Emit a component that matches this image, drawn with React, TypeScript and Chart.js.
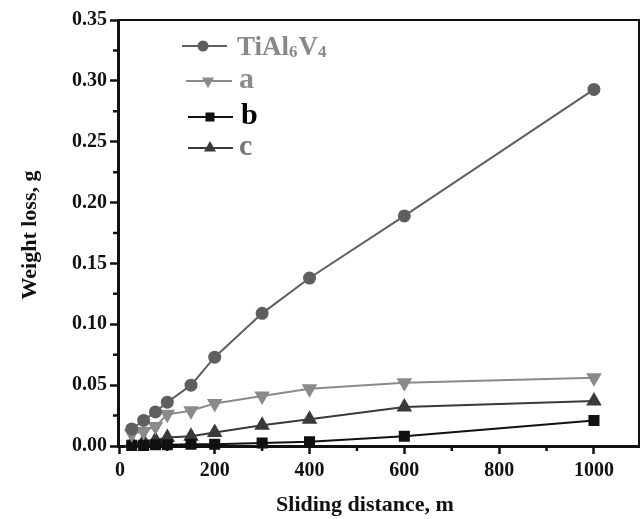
import React, { useEffect, useRef } from 'react';
import { Chart, registerables } from 'chart.js';

Chart.register(...registerables);

const distances = [25, 50, 75, 100, 150, 200, 300, 400, 600, 1000];
const tiAl6V4 = [0.014, 0.021, 0.028, 0.036, 0.05, 0.073, 0.109, 0.138, 0.189, 0.293];
const seriesA = [0.01, 0.012, 0.016, 0.026, 0.029, 0.035, 0.041, 0.047, 0.052, 0.056];
const seriesB = [0.0005, 0.0005, 0.001, 0.001, 0.0015, 0.0015, 0.0025, 0.0035, 0.008, 0.021];
const seriesC = [0.002, 0.004, 0.005, 0.007, 0.008, 0.011, 0.017, 0.022, 0.032, 0.037];

const xTicks = [0, 200, 400, 600, 800, 1000];
const xMinorTicks = [100, 300, 500, 700, 900];
const yTicks = [0, 0.05, 0.1, 0.15, 0.2, 0.25, 0.3, 0.35];
const yMinorTicks = [0.025, 0.075, 0.125, 0.175, 0.225, 0.275, 0.325];

const legendLabels = ['TiAl', 'a', 'b', 'c'];
const xTitle = 'Sliding distance, m';
const yTitle = 'Weight loss, g';

const SERIF = '"Liberation Serif", "Times New Roman", serif';

type MarkerStyle = 'circle' | 'rect' | 'triangle' | 'triangleDown';

function drawMarker(ctx: CanvasRenderingContext2D, style: MarkerStyle, x: number, y: number, r: number, color: string) {
  ctx.save();
  ctx.fillStyle = color;
  ctx.beginPath();
  if (style === 'circle') {
    ctx.arc(x, y, r, 0, Math.PI * 2);
  } else if (style === 'rect') {
    const s = r * Math.SQRT1_2;
    ctx.rect(x - s, y - s, 2 * s, 2 * s);
  } else if (style === 'triangle') {
    const h = r * Math.sin(Math.PI / 3);
    ctx.moveTo(x, y - r);
    ctx.lineTo(x - h, y + r / 2);
    ctx.lineTo(x + h, y + r / 2);
    ctx.closePath();
  } else {
    const h = r * Math.sin(Math.PI / 3);
    ctx.moveTo(x, y + r);
    ctx.lineTo(x - h, y - r / 2);
    ctx.lineTo(x + h, y - r / 2);
    ctx.closePath();
  }
  ctx.fill();
  ctx.restore();
}

const frameAndLegend = {
  id: 'frameAndLegend',
  afterDraw(chart: any) {
    const ctx: CanvasRenderingContext2D = chart.ctx;
    const { left, right, top, bottom } = chart.chartArea;
    const xs = chart.scales.x;
    const ys = chart.scales.y;
    ctx.save();
    // frame top and right
    ctx.strokeStyle = '#111';
    ctx.lineWidth = 2;
    ctx.beginPath();
    ctx.moveTo(left, top);
    ctx.lineTo(right, top);
    ctx.lineTo(right, bottom);
    ctx.stroke();
    // minor ticks
    ctx.lineWidth = 2.5;
    ctx.beginPath();
    xMinorTicks.forEach((v) => {
      const px = xs.getPixelForValue(v);
      ctx.moveTo(px, bottom);
      ctx.lineTo(px, bottom + 5);
    });
    yMinorTicks.forEach((v) => {
      const py = ys.getPixelForValue(v);
      ctx.moveTo(left, py);
      ctx.lineTo(left - 5, py);
    });
    ctx.stroke();

    // axis titles
    ctx.fillStyle = '#111';
    ctx.font = `bold 22px ${SERIF}`;
    ctx.textAlign = 'center';
    ctx.textBaseline = 'middle';
    ctx.fillText(xTitle, 365, 505);
    ctx.save();
    ctx.translate(30, 235);
    ctx.rotate(-Math.PI / 2);
    ctx.fillText(yTitle, 0, 0);
    ctx.restore();

    // legend
    const rows = [
      { lineY: 46, x0: 182, x1: 227, mx: 203, tx: 237, ty: 55, style: 'circle', color: '#5f5f5f', text: '#888888', r: 5.5 },
      { lineY: 81, x0: 186, x1: 232, mx: 208, tx: 239, ty: 88, style: 'triangleDown', color: '#8a8a8a', text: '#8c8c8c', r: 7 },
      { lineY: 117, x0: 188, x1: 233, mx: 210, tx: 241, ty: 124, style: 'rect', color: '#111111', text: '#000000', r: 6.4 },
      { lineY: 148, x0: 188, x1: 233, mx: 210, tx: 239, ty: 155, style: 'triangle', color: '#3a3a3a', text: '#777777', r: 7 },
    ];
    ctx.textAlign = 'left';
    ctx.textBaseline = 'alphabetic';
    rows.forEach((row, i) => {
      ctx.strokeStyle = row.color;
      ctx.lineWidth = 2;
      ctx.beginPath();
      ctx.moveTo(row.x0, row.lineY);
      ctx.lineTo(row.x1, row.lineY);
      ctx.stroke();
      drawMarker(ctx, row.style as MarkerStyle, row.mx, row.lineY, row.r, row.color);
      ctx.fillStyle = row.text;
      if (i === 0) {
        let x = row.tx;
        const parts: [string, boolean][] = [[legendLabels[0], false], ['6', true], ['V', false], ['4', true]];
        parts.forEach(([t, sub]) => {
          ctx.font = sub ? `bold 17px ${SERIF}` : `bold 27px ${SERIF}`;
          ctx.fillText(t, x, sub ? row.ty + 2 : row.ty);
          x += ctx.measureText(t).width + (sub ? 1 : 0);
        });
      } else {
        ctx.font = `bold 30px ${SERIF}`;
        ctx.fillText(legendLabels[i], row.tx, row.ty);
      }
    });
    ctx.restore();
  },
};

export default function App() {
  const canvasRef = useRef<HTMLCanvasElement | null>(null);

  useEffect(() => {
    if (!canvasRef.current) return;
    const mk = (data: number[]) => distances.map((d, i) => ({ x: d, y: data[i] }));
    const tickFont = { family: SERIF, size: 20, weight: 'bold' as const };
    const chart = new Chart(canvasRef.current, {
      type: 'line',
      data: {
        datasets: [
          {
            label: 'TiAl6V4',
            data: mk(tiAl6V4),
            borderColor: '#5f5f5f',
            backgroundColor: '#5f5f5f',
            pointStyle: 'circle',
            pointRadius: 5.5,
            borderWidth: 2,
            clip: false as any,
          },
          {
            label: 'a',
            data: mk(seriesA),
            borderColor: '#8a8a8a',
            backgroundColor: '#8a8a8a',
            pointStyle: 'triangle',
            pointRotation: 180,
            pointRadius: 7,
            borderWidth: 2,
            clip: false as any,
          },
          {
            label: 'b',
            data: mk(seriesB),
            borderColor: '#111111',
            backgroundColor: '#111111',
            pointStyle: 'rect',
            pointRadius: 6.4,
            borderWidth: 2,
            clip: false as any,
          },
          {
            label: 'c',
            data: mk(seriesC),
            borderColor: '#3a3a3a',
            backgroundColor: '#3a3a3a',
            pointStyle: 'triangle',
            pointRadius: 7,
            borderWidth: 2,
            clip: false as any,
          },
        ],
      },
      options: {
        responsive: false,
        animation: false,
        devicePixelRatio: 1,
        layout: { autoPadding: false, padding: { top: 20, right: 2, left: 0, bottom: 0 } },
        plugins: { legend: { display: false }, tooltip: { enabled: false } },
        elements: { line: { tension: 0 }, point: { borderWidth: 0 } },
        scales: {
          x: {
            type: 'linear',
            min: -4,
            max: 1095,
            afterBuildTicks: (s: any) => {
              s.ticks = xTicks.map((v) => ({ value: v }));
            },
            afterFit: (s: any) => {
              s.height = 73;
              s.paddingRight = 0;
              s.paddingLeft = 0;
            },
            ticks: {
              font: tickFont,
              color: '#111',
              padding: 5,
              maxRotation: 0,
              autoSkip: false,
              callback: (v: any) => String(v),
            },
            grid: { drawOnChartArea: false, drawTicks: true, tickLength: 8, tickWidth: 2.5, tickColor: '#111' },
            border: { display: true, width: 3, color: '#111' },
          },
          y: {
            type: 'linear',
            min: 0,
            max: 0.35,
            afterBuildTicks: (s: any) => {
              s.ticks = yTicks.map((v) => ({ value: v }));
            },
            afterFit: (s: any) => {
              s.width = 118;
            },
            ticks: {
              font: tickFont,
              color: '#111',
              padding: 3,
              autoSkip: false,
              callback: (v: any) => Number(v).toFixed(2),
            },
            grid: { drawOnChartArea: false, drawTicks: true, tickLength: 8, tickWidth: 2.5, tickColor: '#111' },
            border: { display: true, width: 3, color: '#111' },
          },
        },
      },
      plugins: [frameAndLegend],
    });
    return () => chart.destroy();
  }, []);

  return (
    <div style={{ position: 'absolute', left: 0, top: 0, width: 641, height: 519, background: '#fff' }}>
      <canvas ref={canvasRef} width={641} height={519} />
    </div>
  );
}
